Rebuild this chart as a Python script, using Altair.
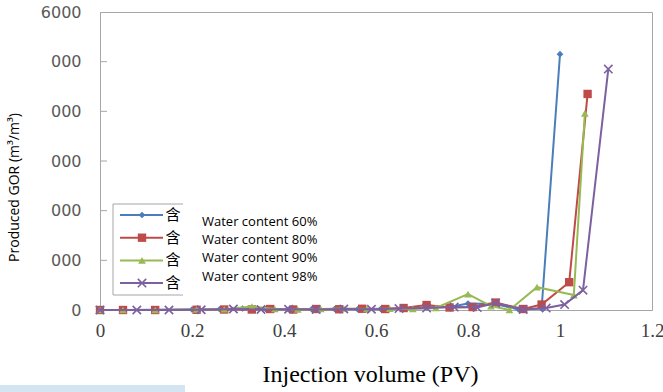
import altair as alt
import pandas as pd

# Produced gas-oil ratio versus injected pore volumes, one series per water content
series_labels = ["Water content 60%", "Water content 80%", "Water content 90%", "Water content 98%"]

pv_60 = [0, 0.05, 0.12, 0.20, 0.26, 0.31, 0.36, 0.41, 0.46, 0.51, 0.56, 0.61, 0.66, 0.71, 0.76, 0.80, 0.86, 0.91, 0.96, 1.00]
gor_60 = [0, 0, 5, 10, 15, 30, 20, 10, 15, 20, 15, 20, 30, 50, 60, 130, 120, 10, 30, 5150]

pv_80 = [0, 0.05, 0.12, 0.21, 0.27, 0.33, 0.37, 0.42, 0.47, 0.52, 0.57, 0.62, 0.66, 0.71, 0.76, 0.81, 0.86, 0.92, 0.96, 1.02, 1.06]
gor_80 = [0, 0, 0, 5, 10, 10, 20, 10, 20, 15, 25, 20, 40, 100, 50, 60, 150, 20, 110, 560, 4350]

pv_90 = [0, 0.05, 0.12, 0.21, 0.27, 0.33, 0.38, 0.43, 0.48, 0.53, 0.58, 0.63, 0.68, 0.73, 0.80, 0.85, 0.89, 0.95, 1.03, 1.054]
gor_90 = [0, 0, 0, 10, 15, 70, 20, 10, 20, 30, 20, 25, 20, 40, 320, 80, 0, 460, 300, 3960]

pv_98 = [0, 0.08, 0.15, 0.22, 0.29, 0.35, 0.41, 0.47, 0.53, 0.59, 0.65, 0.71, 0.77, 0.82, 0.86, 0.92, 0.97, 1.01, 1.05, 1.105]
gor_98 = [0, 0, 0, 5, 20, 10, 15, 10, 20, 15, 30, 40, 60, 50, 140, 10, 40, 110, 400, 4850]

x_ticks = [0, 0.2, 0.4, 0.6, 0.8, 1, 1.2]
y_ticks = [0, 1000, 2000, 3000, 4000, 5000, 6000]

colors = ["#4A7EBB", "#BE4B48", "#98B954", "#7D60A0"]
x_path = "M-1,-1L1,1M-1,1L1,-1"
shapes = ["diamond", "square", "triangle-up", x_path]
filled = [True, True, True, False]
sizes = [45, 70, 60, 70]

W, H = 552, 298
GRAY = "#a6a6a6"

x_scale = alt.Scale(domain=[0, 1.2], nice=False, zero=False)
y_scale = alt.Scale(domain=[0, 6000], nice=False)

x_axis = alt.Axis(
    values=x_ticks, format="~g", ticks=False, grid=False, labelFlush=False,
    domainColor=GRAY, labelFont="Liberation Serif", labelFontSize=19,
    labelColor="#404040", labelPadding=11,
    title="Injection volume (PV)", titleFont="Liberation Serif",
    titleFontSize=24, titleFontWeight="normal", titleColor="#000000",
    titleX=270, titleY=71, titleBaseline="alphabetic", titleAnchor="middle",
)
y_axis = alt.Axis(
    values=y_ticks, ticks=False, grid=False, domainColor=GRAY, labelFlush=False,
    labelExpr="datum.value == 6000 ? '6000' : datum.value == 0 ? '0' : '000'",
    labelFont="DejaVu Sans", labelFontSize=16, labelColor="#595959", labelPadding=19,
    title="Produced GOR (m³/m³)", titleFont="Open Sans", titleFontSize=14,
    titleFontWeight="normal", titleColor="#000000",
    titleX=-86, titleY=175, titleAngle=-90, titleAlign="center", titleBaseline="middle",
)

series_data = [(pv_60, gor_60), (pv_80, gor_80), (pv_90, gor_90), (pv_98, gor_98)]

layers = []
for i, (pv, gor) in enumerate(series_data):
    df = pd.DataFrame({"pv": pv, "gor": gor})
    enc_x = alt.X("pv:Q", scale=x_scale, axis=x_axis)
    enc_y = alt.Y("gor:Q", scale=y_scale, axis=y_axis)
    line = alt.Chart(df).mark_line(color=colors[i], strokeWidth=2).encode(x=enc_x, y=enc_y)
    pts = alt.Chart(df).mark_point(
        shape=shapes[i], filled=filled[i], color=colors[i], size=sizes[i],
        strokeWidth=1.6, opacity=1,
    ).encode(x=enc_x, y=enc_y)
    layers += [line, pts]

# inward tick marks on the value axis
tick_df = pd.DataFrame({"v": y_ticks[1:-1]})
layers.append(
    alt.Chart(tick_df).mark_rule(color=GRAY, strokeWidth=1).encode(
        y=alt.Y("v:Q", scale=y_scale, axis=y_axis), x=alt.value(0), x2=alt.value(7)
    )
)

one = alt.Data(values=[{"k": 0}])

# legend frame (left, top, bottom edges)
box_l, box_r, box_t, box_b = 13, 83, 192, 283
layers.append(alt.Chart(one).mark_rule(color=GRAY).encode(x=alt.value(box_l), y=alt.value(box_t), y2=alt.value(box_b)))
layers.append(alt.Chart(one).mark_rule(color=GRAY).encode(x=alt.value(box_l), x2=alt.value(box_r), y=alt.value(box_t)))
layers.append(alt.Chart(one).mark_rule(color=GRAY).encode(x=alt.value(box_l), x2=alt.value(box_r), y=alt.value(box_b)))

for i in range(4):
    ry = 203 + i * 22.7
    layers.append(alt.Chart(one).mark_rule(color=colors[i], strokeWidth=2).encode(
        x=alt.value(20), x2=alt.value(63), y=alt.value(ry)))
    layers.append(alt.Chart(one).mark_point(
        shape=shapes[i], filled=filled[i], color=colors[i], size=sizes[i],
        strokeWidth=1.6, opacity=1).encode(x=alt.value(42), y=alt.value(ry)))
    layers.append(alt.Chart(one).mark_text(
        text="含", font="Noto Sans CJK SC", fontSize=15, color="#000000",
        align="center", baseline="middle").encode(x=alt.value(73), y=alt.value(ry)))
    layers.append(alt.Chart(one).mark_text(
        text=series_labels[i], font="Open Sans", fontSize=13, color="#000000",
        align="left", baseline="middle").encode(x=alt.value(102), y=alt.value(210 + i * 18.2)))

# light strip along the lower left edge
layers.append(alt.Chart(one).mark_rect(color="#d3e4f3", clip=False).encode(
    x=alt.value(-100), x2=alt.value(85), y=alt.value(373), y2=alt.value(380)))

chart = alt.layer(*layers).properties(
    width=W, height=H,
    autosize=alt.AutoSizeParams(type="none"),
    padding={"left": 100, "top": 12, "right": 11, "bottom": 82},
    background="white",
).configure_view(stroke=GRAY, strokeWidth=1)

chart.save("out.html", embed_options={"renderer": "svg", "actions": False})
